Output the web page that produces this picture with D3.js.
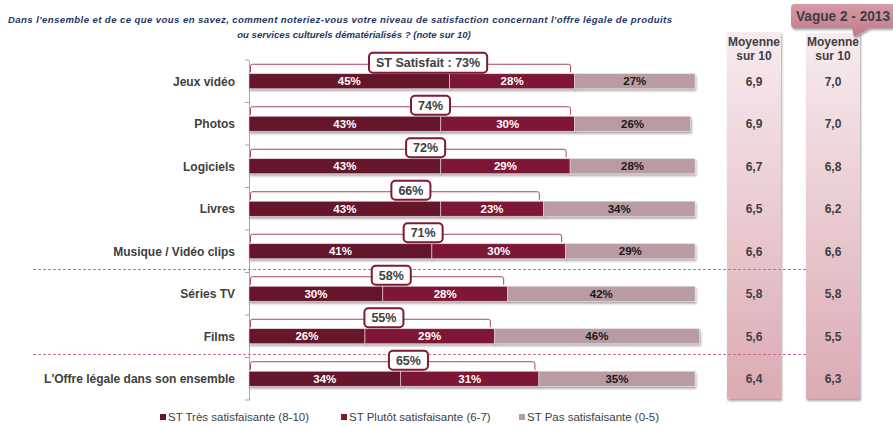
<!DOCTYPE html>
<html><head><meta charset="utf-8">
<script src="https://cdn.jsdelivr.net/npm/d3@7"></script>
<style>
html,body{margin:0;padding:0;background:#fff;}
svg{display:block;font-family:"Liberation Sans",Arial,sans-serif;}
</style></head>
<body>
<svg id="chart" width="893" height="426"></svg>
<script>
const categories = ["Jeux vidéo","Photos","Logiciels","Livres","Musique / Vidéo clips","Séries TV","Films","L'Offre légale dans son ensemble"];
const seriesNames = ["ST Très satisfaisante (8-10)","ST Plutôt satisfaisante (6-7)","ST Pas satisfaisante (0-5)"];
const tresSatisfaisante = [45,43,43,43,41,30,26,34];
const plutotSatisfaisante = [28,30,29,23,30,28,29,31];
const pasSatisfaisante = [27,26,28,34,29,42,46,35];
const stSatisfait = [73,74,72,66,71,58,55,65];
const moyenneVague1 = [6.9,6.9,6.7,6.5,6.6,5.8,5.6,6.4];
const moyenneVague2 = [7.0,7.0,6.8,6.2,6.6,5.8,5.5,6.3];
const groupStarts = ["Séries TV","L'Offre légale dans son ensemble"];
const titleLines = ["Dans l'ensemble et de ce que vous en savez, comment noteriez-vous votre niveau de satisfaction concernant l'offre légale de produits","ou services culturels dématérialisés  ? (note sur 10)"];

const colors = ["#66132b","#7e1936","#b99ca1"];
const textColors = ["#ffffff","#ffffff","#1a1a1a"];
const grey = "#404040";

const svg = d3.select("#chart");
const defs = svg.append("defs");
const sh = defs.append("filter").attr("id","shadow").attr("x","-5%").attr("y","-30%").attr("width","115%").attr("height","180%");
sh.append("feDropShadow").attr("dx",1).attr("dy",2).attr("stdDeviation",0.8).attr("flood-color","#000").attr("flood-opacity",0.35);
const colGrad = defs.append("linearGradient").attr("id","colGrad").attr("x1",0).attr("y1",0).attr("x2",0).attr("y2",1);
colGrad.append("stop").attr("offset","0%").attr("stop-color","#f7ebee");
colGrad.append("stop").attr("offset","100%").attr("stop-color","#dcaab3");
const vgGrad = defs.append("linearGradient").attr("id","vgGrad").attr("x1",0).attr("y1",0).attr("x2",0).attr("y2",1);
vgGrad.append("stop").attr("offset","0%").attr("stop-color","#d59ca7");
vgGrad.append("stop").attr("offset","100%").attr("stop-color","#c27887");

const table = categories.map((c,i)=>({cat:c, s0:tresSatisfaisante[i], s1:plutotSatisfaisante[i], s2:pasSatisfaisante[i]}));
const stack = d3.stack().keys(["s0","s1","s2"])(table);

const x = d3.scaleLinear().domain([0,100]).range([249,695]);
const y = d3.scaleBand().domain(categories).range([60,400]).padding(0);
const barH = 15;
const barY = c => y(c) + y.bandwidth()/2 - barH/2;

// title
svg.append("text").attr("x",8).attr("y",23).attr("textLength",664).attr("lengthAdjust","spacing")
  .attr("font-size",9.6).attr("font-style","italic").attr("font-weight","bold").attr("fill","#1f3864").text(titleLines[0]);
svg.append("text").attr("x",354).attr("y",38).attr("text-anchor","middle")
  .attr("font-size",9.6).attr("font-style","italic").attr("font-weight","bold").attr("fill","#1f3864").text(titleLines[1]);

// mean columns
const cols = [{x:727, vals:moyenneVague1},{x:806, vals:moyenneVague2}];
const colW = 54;
const fmt = v => d3.format(".1f")(v).replace(".",",");
svg.append("rect").attr("x",cols[0].x).attr("y",32).attr("width",colW).attr("height",367)
  .attr("fill","url(#colGrad)").attr("filter","url(#shadow)");

// dashed separators
groupStarts.forEach(c=>{
  svg.append("line").attr("x1",33).attr("x2",806).attr("y1",y(c)-3).attr("y2",y(c)-3)
    .attr("stroke","#c96f87").attr("stroke-width",1.2).attr("stroke-dasharray","3,2");
});
svg.append("rect").attr("x",cols[1].x).attr("y",33).attr("width",colW).attr("height",366)
  .attr("fill","url(#colGrad)").attr("filter","url(#shadow)");
cols.forEach(col=>{
  const cx = col.x + colW/2;
  svg.append("text").attr("x",cx).attr("y",46).attr("text-anchor","middle").attr("font-size",12).attr("font-weight","bold").attr("fill",grey).text("Moyenne");
  svg.append("text").attr("x",cx).attr("y",60).attr("text-anchor","middle").attr("font-size",12).attr("font-weight","bold").attr("fill",grey).text("sur 10");
  svg.append("g").selectAll("text").data(col.vals).join("text")
    .attr("x",cx).attr("y",(d,i)=>y(categories[i])+y.bandwidth()/2+4.5)
    .attr("text-anchor","middle").attr("font-size",12).attr("font-weight","bold").attr("fill",grey)
    .text(d=>fmt(d));
});

// Vague callout
const vg = svg.append("g");
vg.append("path").attr("d","M795,4 H893 V28 H870 L854,37 L852,28 H795 Q791,28 791,24 V8 Q791,4 795,4 Z")
  .attr("fill","url(#vgGrad)").attr("filter","url(#shadow)");
vg.append("text").attr("x",796).attr("y",21).attr("font-size",14).attr("font-weight","bold")
  .attr("textLength",94).attr("lengthAdjust","spacingAndGlyphs").attr("fill",grey).text("Vague 2 - 2013");

// axis
const axis = d3.axisLeft(y).tickSize(0).tickFormat("");
const ag = svg.append("g").attr("transform","translate(249,0)").call(axis);
ag.select(".domain").attr("stroke","#a6a6a6");
const bounds = categories.map(c=>y(c)).concat([y.range()[1]]);
svg.append("g").selectAll("line").data(bounds).join("line")
  .attr("x1",245).attr("x2",249).attr("y1",d=>d).attr("y2",d=>d).attr("stroke","#a6a6a6");

// category labels
svg.append("g").selectAll("text").data(categories).join("text")
  .attr("x",235).attr("y",c=>y(c)+y.bandwidth()/2+4.5).attr("text-anchor","end")
  .attr("font-size",12).attr("font-weight","bold").attr("fill",grey).text(c=>c);

// bars
const layers = svg.append("g").selectAll("g").data(stack).join("g");
layers.each(function(layer,li){
  const g = d3.select(this);
  g.selectAll("rect").data(layer).join("rect")
    .attr("x",d=>x(d[0])).attr("y",d=>barY(d.data.cat))
    .attr("width",d=>x(d[1])-x(d[0])).attr("height",barH)
    .attr("fill",colors[li]).attr("stroke","#e8d8dc").attr("stroke-width",0.6)
    .attr("filter","url(#shadow)");
});
layers.each(function(layer,li){
  d3.select(this).selectAll("text").data(layer).join("text")
    .attr("x",d=>(x(d[0])+x(d[1]))/2).attr("y",d=>barY(d.data.cat)+barH/2+4)
    .attr("text-anchor","middle").attr("font-size",11.5).attr("font-weight","bold")
    .attr("fill",textColors[li]).text(d=>(d[1]-d[0])+"%");
});

// brackets and callout boxes
categories.forEach((c,i)=>{
  const top = barY(c) - 9.5, bottom = barY(c) - 1.5;
  const x0 = 250.5, x1 = x(tresSatisfaisante[i]+plutotSatisfaisante[i]) - 4;
  svg.append("path")
    .attr("d",`M${x0},${bottom} V${top+2} Q${x0},${top} ${x0+2},${top} H${x1-2} Q${x1},${top} ${x1},${top+2} V${bottom}`)
    .attr("fill","none").attr("stroke","#a4465f").attr("stroke-width",1);
  const label = i===0 ? "ST Satisfait : " + stSatisfait[i] + "%" : stSatisfait[i] + "%";
  const cx = x(Math.min(stSatisfait[i]*0.55, 42));
  const g = svg.append("g");
  const t = g.append("text").attr("x",cx).attr("y",top+3).attr("text-anchor","middle")
    .attr("font-size",12.5).attr("font-weight","bold").attr("fill",grey).text(label);
  const w = t.node().getComputedTextLength() + 14;
  const h = i===0 ? 20 : 19;
  g.insert("rect","text").attr("x",cx-w/2).attr("y",top-h/2-1.5).attr("width",w).attr("height",h)
    .attr("rx",4).attr("fill","#fff").attr("stroke","#7e1936").attr("stroke-width",2);
});

// legend
const legX = [160,341,519];
const lg = svg.append("g");
seriesNames.forEach((n,i)=>{
  lg.append("rect").attr("x",legX[i]).attr("y",414).attr("width",6).attr("height",6).attr("fill",colors[i]);
  lg.append("text").attr("x",legX[i]+8).attr("y",421).attr("font-size",11.5).attr("fill",grey).text(n);
});
</script>
</body></html>
